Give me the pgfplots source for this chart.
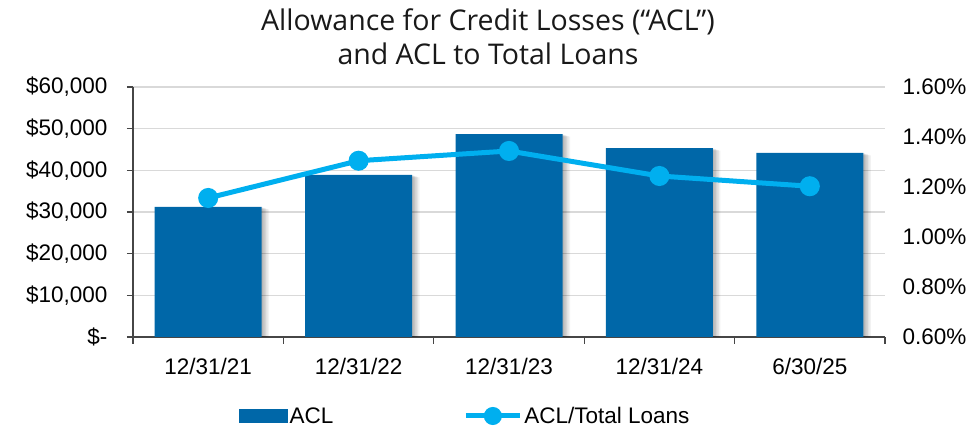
\documentclass[border=0pt]{standalone}
\usepackage{pgfplots}
\pgfplotsset{compat=1.18}
\usepackage{fontspec}
\setmainfont{Liberation Sans}
\newfontfamily\titlefont{Open Sans}
\definecolor{barblue}{RGB}{0,103,168}
\definecolor{lineblue}{RGB}{0,175,239}
\definecolor{gridgray}{RGB}{217,217,217}
\definecolor{axisgray}{RGB}{70,70,70}
\definecolor{titlegray}{RGB}{25,25,25}
\begin{document}
\begin{tikzpicture}
\begin{axis}[
  name=ax,
  scale only axis, width=752pt, height=250pt,
  xmin=-0.5, xmax=4.5, ymin=0, ymax=60000,
  scaled y ticks=false,
  axis y line*=left, axis x line*=bottom,
  axis line style={draw=axisgray, line width=1.3pt},
  xtick={0,1,2,3,4},
  xticklabels={12/31/21,12/31/22,12/31/23,12/31/24,6/30/25},
  minor xtick={-0.5,0.5,1.5,2.5,3.5,4.5},
  x tick style={draw=none},
  minor x tick style={draw=axisgray, line width=1.2pt},
  minor tick length=7pt,
  ytick={0,10000,20000,30000,40000,50000,60000},
  yticklabels={\$-,\$10{,}000,\$20{,}000,\$30{,}000,\$40{,}000,\$50{,}000,\$60{,}000},
  y tick style={draw=axisgray, line width=1.2pt},
  major tick length=6pt,
  tick align=outside,
  ymajorgrids, major grid style={draw=gridgray, line width=1.5pt},
  tick label style={font=\fontsize{22.5}{26}\selectfont, text=black},
  yticklabel style={xshift=-16pt},
  xticklabel style={yshift=-12pt},
  title={Allowance for Credit Losses (“ACL”)\\and ACL to Total Loans},
  title style={at={(0.5,1)}, anchor=south, yshift=16pt, xshift=-21pt, align=center, inner sep=0pt,
    font=\titlefont\fontsize{28.5}{34}\selectfont, text=titlegray},
]
\addplot[ybar, bar width=107pt, fill=barblue, draw=none,
  preaction={fill=black, fill opacity=0.07, transform canvas={xshift=1.5pt,yshift=-0.5pt}},
  preaction={fill=black, fill opacity=0.07, transform canvas={xshift=3pt,yshift=-1pt}},
  preaction={fill=black, fill opacity=0.07, transform canvas={xshift=4.5pt,yshift=-1.5pt}},
  preaction={fill=black, fill opacity=0.06, transform canvas={xshift=6pt,yshift=-2pt}},
  preaction={fill=black, fill opacity=0.05, transform canvas={xshift=7.5pt,yshift=-2.5pt}}]
  coordinates {(0,31200) (1,38900) (2,48700) (3,45300) (4,44200)};
\end{axis}
\begin{axis}[
  scale only axis, width=752pt, height=250pt,
  xmin=-0.5, xmax=4.5, ymin=0.6, ymax=1.6,
  axis y line*=right, hide x axis,
  y axis line style={draw=none},
  ytick={0.6,0.8,1.0,1.2,1.4,1.6},
  yticklabels={0.60\%,0.80\%,1.00\%,1.20\%,1.40\%,1.60\%},
  y tick style={draw=none},
  tick label style={font=\fontsize{22.5}{26}\selectfont, text=black},
  yticklabel style={xshift=14pt},
  legend columns=4,
  legend style={at={(106/752,-0.316)}, anchor=west, draw=none, fill=none, inner sep=0pt,
    font=\fontsize{22.5}{26}\selectfont,
    nodes={inner sep=2pt},
    /tikz/every even column/.append style={column sep=128pt}},
]
\addlegendimage{legend image code/.code={\fill[barblue] (0pt,-6.5pt) rectangle (48pt,6.5pt);}}
\addplot[color=lineblue, line width=5pt, mark=*, mark size=7.5pt,
  legend image code/.code={\draw[lineblue, line width=5pt] (0pt,0pt) -- (54pt,0pt);
    \fill[lineblue] (27pt,0pt) circle (6.5pt);}]
  coordinates {(0,1.156) (1,1.305) (2,1.344) (3,1.244) (4,1.203)};
\legend{ACL, ACL/Total Loans}
\end{axis}
\pgfresetboundingbox
\path ([xshift=-133pt,yshift=-91pt]ax.south west) rectangle ([xshift=93pt,yshift=87pt]ax.north east);
\end{tikzpicture}
\end{document}
